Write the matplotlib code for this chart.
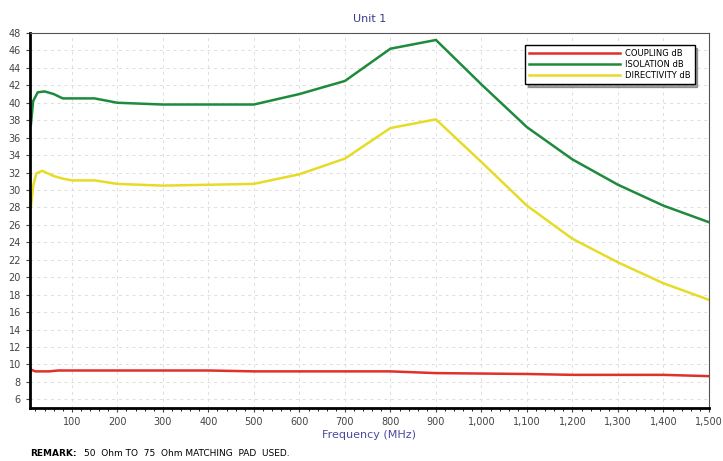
import matplotlib
matplotlib.use("Agg")
import matplotlib.pyplot as plt
from matplotlib.ticker import MultipleLocator, FuncFormatter

freq_iso = [10, 15, 25, 40, 60, 80, 100, 150, 200, 300, 400, 500, 600, 700, 800, 900, 1000, 1100, 1200, 1300, 1400, 1500]
isolation = [37.5, 40.2, 41.2, 41.3, 41.0, 40.5, 40.5, 40.5, 40.0, 39.8, 39.8, 39.8, 41.0, 42.5, 46.2, 47.2, 42.1, 37.2, 33.5, 30.6, 28.2, 26.3]

freq_dir = [10, 15, 22, 35, 60, 80, 100, 150, 200, 300, 400, 500, 600, 700, 800, 900, 1000, 1100, 1200, 1300, 1400, 1500]
directivity = [28.0, 30.5, 31.9, 32.2, 31.6, 31.3, 31.1, 31.1, 30.7, 30.5, 30.6, 30.7, 31.8, 33.6, 37.1, 38.1, 33.2, 28.2, 24.4, 21.7, 19.3, 17.4]

freq_cpl = [10, 20, 50, 70, 200, 400, 500, 800, 900, 1100, 1200, 1400, 1500]
coupling = [9.4, 9.2, 9.2, 9.3, 9.3, 9.3, 9.2, 9.2, 9.0, 8.9, 8.8, 8.8, 8.65]

fig = plt.figure(figsize=(7.23, 4.61), dpi=100)
ax = fig.add_axes([30/723, 1-408/461, 679/723, 375/461])

ax.plot(freq_cpl, coupling, color="#e0302a", lw=1.8, label="COUPLING dB")
ax.plot(freq_iso, isolation, color="#1e8a3c", lw=1.8, label="ISOLATION dB")
ax.plot(freq_dir, directivity, color="#e6dc28", lw=1.8, label="DIRECTIVITY dB")

ax.set_xlim(8, 1500)
ax.set_ylim(5, 48)
ax.xaxis.set_major_locator(MultipleLocator(100))
ax.xaxis.set_minor_locator(MultipleLocator(20))
ax.yaxis.set_major_locator(MultipleLocator(2))
ax.xaxis.set_major_formatter(FuncFormatter(lambda v, p: f"{int(v):,}"))
ax.tick_params(axis="both", labelsize=7, colors="#444444", length=3)
ax.tick_params(axis="x", which="minor", length=2)
ax.grid(True, which="major", linestyle=(0, (3, 4)), color="#dddddd", lw=0.7)
for s in ["left", "bottom"]:
    ax.spines[s].set_linewidth(2.0)
for s in ["top", "right"]:
    ax.spines[s].set_linewidth(0.8)
    ax.spines[s].set_color("#555555")

ax.set_title("Unit 1", fontsize=8, color="#3a3a8a", pad=8)
ax.set_xlabel("Frequency (MHz)", fontsize=8, color="#4a4aa0", labelpad=2)

leg = ax.legend(loc="upper right", bbox_to_anchor=(0.985, 0.978), fontsize=6, handlelength=11,
                frameon=True, fancybox=False, shadow=True, borderpad=0.45, labelspacing=0.25,
                handletextpad=0.6)
leg.get_frame().set_edgecolor("black")
leg.get_frame().set_linewidth(1.0)

fig.text(30/723, 1-456/461, "REMARK:", fontsize=6.5, fontweight="bold", ha="left", va="baseline")
fig.text(84/723, 1-456/461, "50  Ohm TO  75  Ohm MATCHING  PAD  USED.", fontsize=6.5, ha="left", va="baseline")

fig.savefig("out.png", dpi=100)
